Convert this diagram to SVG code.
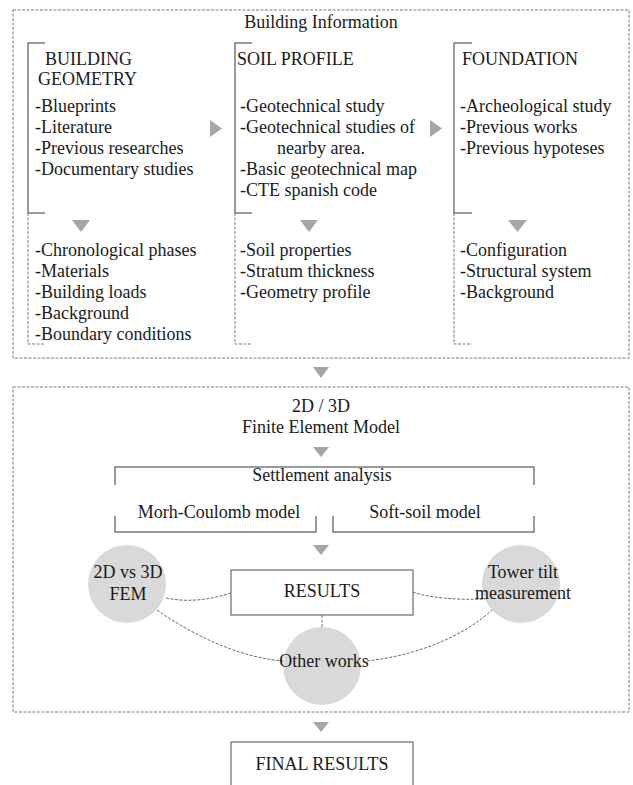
<svg xmlns="http://www.w3.org/2000/svg" width="633" height="785" viewBox="0 0 633 785">
<style>
text{font-family:"Liberation Serif","Times New Roman",serif;font-size:18px;fill:#1a1a1a}
.c{text-anchor:middle}
.dbox{fill:none;stroke:#7a7a7a;stroke-width:1;stroke-dasharray:3,1.5}
.br{fill:none;stroke:#7a7a7a;stroke-width:1.5}
.brd{fill:none;stroke:#7a7a7a;stroke-width:1;stroke-dasharray:3,1.5}
.tri{fill:#a6a6a6}
.box{fill:#fff;stroke:#6a6a6a;stroke-width:1.2}
.circ{fill:#d9d9d9}
.con{fill:none;stroke:#6a6a6a;stroke-width:1;stroke-dasharray:3,1.5}
</style>
<rect width="633" height="785" fill="#fff"/>

<g id="building-information">
<rect class="dbox" x="13" y="10" width="616" height="348"/>
<text class="c" x="321" y="28">Building Information</text>
</g>

<g id="building-geometry">
<path class="br" d="M45,43 H28 V213 H45"/>
<path class="brd" d="M28,213 V344 H45"/>
<text x="45" y="65">BUILDING</text>
<text x="38" y="85">GEOMETRY</text>
<text x="35" y="112">-Blueprints</text>
<text x="35" y="133">-Literature</text>
<text x="35" y="154">-Previous researches</text>
<text x="35" y="175">-Documentary studies</text>
<text x="35" y="256">-Chronological phases</text>
<text x="35" y="277">-Materials</text>
<text x="35" y="298">-Building loads</text>
<text x="35" y="319">-Background</text>
<text x="35" y="340">-Boundary conditions</text>
</g>

<g id="soil-profile">
<path class="br" d="M252,43 H235 V213 H252"/>
<path class="brd" d="M235,213 V344 H252"/>
<text x="237" y="65">SOIL PROFILE</text>
<text x="240" y="112">-Geotechnical study</text>
<text x="240" y="133">-Geotechnical studies of</text>
<text x="277" y="154">nearby area.</text>
<text x="240" y="175">-Basic geotechnical map</text>
<text x="240" y="196">-CTE spanish code</text>
<text x="240" y="256">-Soil properties</text>
<text x="240" y="277">-Stratum thickness</text>
<text x="240" y="298">-Geometry profile</text>
</g>

<g id="foundation">
<path class="br" d="M472,43 H454 V213 H472"/>
<path class="brd" d="M454,213 V344 H472"/>
<text x="462" y="65">FOUNDATION</text>
<text x="460" y="112">-Archeological study</text>
<text x="460" y="133">-Previous works</text>
<text x="460" y="154">-Previous hypoteses</text>
<text x="460" y="256">-Configuration</text>
<text x="460" y="277">-Structural system</text>
<text x="460" y="298">-Background</text>
</g>

<g id="fem">
<rect class="dbox" x="13" y="387" width="616" height="325"/>
<text class="c" x="321" y="412">2D / 3D</text>
<text class="c" x="321" y="433">Finite Element Model</text>
</g>

<g id="settlement-analysis">
<path class="br" d="M115,485 V467 H534 V485"/>
<text class="c" x="322" y="481">Settlement analysis</text>
</g>

<g id="morh-coulomb">
<path class="br" d="M115,516 V532 H316 V516"/>
<text class="c" x="219" y="518">Morh-Coulomb model</text>
</g>

<g id="soft-soil">
<path class="br" d="M333,516 V532 H534 V516"/>
<text class="c" x="425" y="518">Soft-soil model</text>
</g>

<g id="connectors">
<polygon class="tri" points="210,120 222,128.5 210,137"/>
<polygon class="tri" points="430,120 442,128.5 430,137"/>
<polygon class="tri" points="72,220 90,220 81,232"/>
<polygon class="tri" points="300,220 318,220 309,232"/>
<polygon class="tri" points="508,220 527,220 517.5,232"/>
<polygon class="tri" points="313,367 329,367 321,378"/>
<polygon class="tri" points="313,447 329,447 321,457"/>
<polygon class="tri" points="313,545 329,545 321,555"/>
<polygon class="tri" points="313,722 329,722 321,732"/>
<path class="con" d="M166,598 C190,603 212,599 231,593"/>
<path class="con" d="M157,610 C200,640 245,658 283,661"/>
<path class="con" d="M413,592 C430,598 455,600 486,599"/>
<path class="con" d="M367,661 C420,655 465,635 492,610"/>
<path class="con" d="M322,615 V627"/>
</g>

<g id="fem-2d-3d">
<circle class="circ" cx="127" cy="584" r="39"/>
<text class="c" x="128" y="578">2D vs 3D</text>
<text class="c" x="128" y="600">FEM</text>
</g>

<g id="results">
<rect class="box" x="231" y="570" width="182" height="45"/>
<text class="c" x="322" y="597">RESULTS</text>
</g>

<g id="tower-tilt">
<circle class="circ" cx="521" cy="584" r="39"/>
<text class="c" x="523" y="578">Tower tilt</text>
<text class="c" x="523" y="599">measurement</text>
</g>

<g id="other-works">
<circle class="circ" cx="322" cy="666" r="39"/>
<text class="c" x="324" y="667">Other works</text>
</g>

<g id="final-results">
<rect class="box" x="231" y="742" width="182" height="60"/>
<text class="c" x="322" y="770">FINAL RESULTS</text>
</g>
</svg>
